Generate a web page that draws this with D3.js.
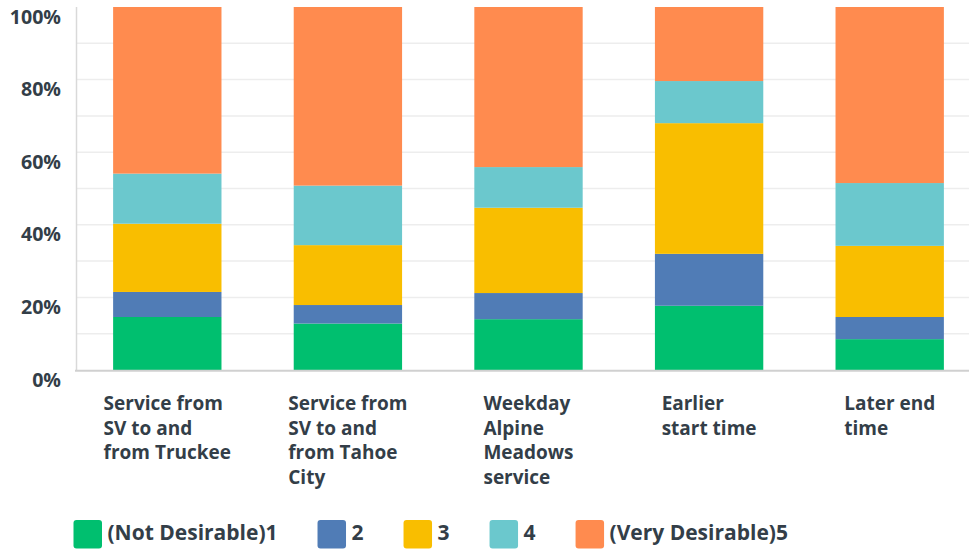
<!DOCTYPE html>
<html><head><meta charset="utf-8">
<script src="https://cdn.jsdelivr.net/npm/d3@7"></script>
<style>
html,body{margin:0;padding:0;background:#fff;}
svg{display:block;font-family:"Open Sans",Roboto,sans-serif;}
</style></head>
<body>
<svg id="chart" width="969" height="549"></svg>
<script>
const categories = [
  ["Service from","SV to and","from Truckee"],
  ["Service from","SV to and","from Tahoe","City"],
  ["Weekday","Alpine","Meadows","service"],
  ["Earlier","start time"],
  ["Later end","time"]
];
const seriesNames = ["(Not Desirable)1","2","3","4","(Very Desirable)5"];
const s1 = [14.6, 12.8, 14.0, 17.7, 8.5];
const s2 = [6.9, 5.1, 7.2, 14.3, 6.1];
const s3 = [18.8, 16.5, 23.5, 36.0, 19.6];
const s4 = [13.8, 16.4, 11.2, 11.6, 17.3];
const s5 = [45.9, 49.2, 44.1, 20.4, 48.5];
const colors = ["#00bf6f","#507cb6","#f9be00","#6bc8cd","#ff8b4f"];
const yTicks = [0,20,40,60,80,100];
const gridTicks = [10,20,30,40,50,60,70,80,90];

const textColor = "#333e48";
const svg = d3.select("#chart");
const x = d3.scaleBand().domain(d3.range(categories.length)).range([77, 980]).paddingInner(0.4).paddingOuter(0.2);
const y = d3.scaleLinear().domain([0,100]).range([370, 7]);

svg.append("g").selectAll("line").data(gridTicks).join("line")
  .attr("x1", 77).attr("x2", 969)
  .attr("y1", d => y(d)).attr("y2", d => y(d))
  .attr("stroke", "#ededed").attr("stroke-width", 1.5);

svg.append("line").attr("x1", 76.5).attr("x2", 76.5).attr("y1", 7).attr("y2", 371)
  .attr("stroke", "#d9d9d9").attr("stroke-width", 1.5);

const seriesData = [s1,s2,s3,s4,s5];
const table = categories.map((c,i) => { const o = {i}; seriesData.forEach((s,k)=> o["k"+k] = s[i]); return o; });
const stack = d3.stack().keys(seriesData.map((s,k)=>"k"+k)).offset(d3.stackOffsetExpand);
const layers = stack(table);
svg.append("g").selectAll("g").data(layers).join("g")
  .attr("fill", (d,k) => colors[k])
  .selectAll("rect").data(d => d).join("rect")
  .attr("x", d => x(d.data.i))
  .attr("width", x.bandwidth())
  .attr("y", d => y(d[1]*100))
  .attr("height", d => y(d[0]*100) - y(d[1]*100));

svg.append("line").attr("x1", 75).attr("x2", 969).attr("y1", 370.8).attr("y2", 370.8)
  .attr("stroke", "#d0d0d0").attr("stroke-width", 2);

svg.append("g").selectAll("text").data(yTicks).join("text")
  .attr("x", 61).attr("y", d => y(d) + 16.5)
  .attr("text-anchor", "end")
  .attr("font-size", 19.6).attr("font-weight", 700).attr("fill", textColor)
  .text(d => d + "%");

categories.forEach((lines, i) => {
  const g = svg.append("g");
  const t = g.selectAll("text").data(lines).join("text")
    .attr("y", (d,j) => 410 + j*24.7)
    .attr("font-size", 19).attr("font-weight", 700).attr("fill", textColor)
    .text(d => d);
  let w = 0; t.each(function(){ w = Math.max(w, this.getComputedTextLength()); });
  const cx = x(i) + x.bandwidth()/2;
  t.attr("x", cx - w/2);
});

let lx = 73.5;
const lg = svg.append("g");
seriesNames.forEach((name, k) => {
  lg.append("rect").attr("x", lx).attr("y", 520).attr("width", 28.5).attr("height", 28.5)
    .attr("rx", 3).attr("fill", colors[k]);
  const t = lg.append("text").attr("x", lx + 34).attr("y", 540)
    .attr("font-size", 21).attr("font-weight", 700).attr("fill", textColor).text(name);
  lx = lx + 34 + t.node().getComputedTextLength() + 40;
});
</script>
</body></html>
